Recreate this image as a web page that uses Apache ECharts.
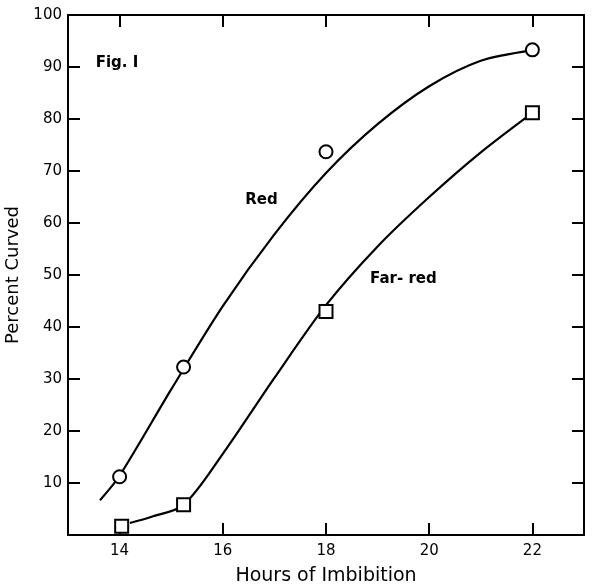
<!DOCTYPE html>
<html>
<head>
<meta charset="utf-8">
<script src="https://cdn.jsdelivr.net/npm/echarts@6/dist/echarts.min.js"></script>
<style>
  html, body { margin: 0; padding: 0; background: #fff; }
  #chart { width: 592px; height: 586px; }
</style>
</head>
<body>
<div id="chart"></div>
<script>
// measured points (hours of imbibition, percent curved)
const redHours = [14, 15.24, 18, 22];
const redPct = [11.2, 32.3, 73.7, 93.3];
const farRedHours = [14.04, 15.24, 18, 22];
const farRedPct = [1.7, 5.8, 43, 81.2];

// hand-drawn fitted curves
const redCurveHours = [13.62, 14, 15, 16, 17, 18, 19, 20, 21, 22];
const redCurvePct = [6.7, 11.4, 28, 44, 57.8, 69.6, 79, 86.3, 91.2, 93.2];
const farRedCurveHours = [14.2, 14.62, 15.24, 16, 17, 18, 19, 20, 21, 22];
const farRedCurvePct = [2.3, 3.5, 5.8, 15.6, 30.2, 44.2, 55.5, 65, 73.6, 81.2];

// axis ticks
const xTicks = [14, 16, 18, 20, 22];
const yTicks = [10, 20, 30, 40, 50, 60, 70, 80, 90];
const yLabels = [10, 20, 30, 40, 50, 60, 70, 80, 90, 100];

// text notes inside the plot
const notes = [
  { text: 'Fig. I', hours: 13.95, pct: 90.8 },
  { text: 'Red', hours: 16.75, pct: 64.4 },
  { text: 'Far- red', hours: 19.5, pct: 49.2 }
];

const ink = '#000';
const font = 'DejaVu Sans';

const zip = (xs, ys) => xs.map((x, i) => [x, ys[i]]);

const baseX = {
  type: 'value',
  min: 13,
  max: 23,
  axisLine: { show: true, onZero: false, lineStyle: { color: ink, width: 2 } },
  axisTick: { show: true, inside: true, length: 12, customValues: xTicks, lineStyle: { color: ink, width: 2 } },
  splitLine: { show: false }
};
const baseY = {
  type: 'value',
  min: 0,
  max: 100,
  interval: 10,
  axisLine: { show: true, onZero: false, lineStyle: { color: ink, width: 2 } },
  axisTick: { show: true, inside: true, length: 12, customValues: yTicks, lineStyle: { color: ink, width: 2 } },
  splitLine: { show: false }
};

const chart = echarts.init(document.getElementById('chart'));

chart.setOption({
  animation: false,
  backgroundColor: '#fff',
  textStyle: { fontFamily: font, color: ink },
  grid: { left: 68, right: 8, top: 15, bottom: 51, containLabel: false, outerBoundsMode: 'none' },
  xAxis: [
    Object.assign({}, baseX, {
      position: 'bottom',
      name: 'Hours of Imbibition',
      nameLocation: 'middle',
      nameGap: 32,
      nameTextStyle: { fontFamily: font, fontSize: 19, color: ink },
      axisLabel: { show: true, customValues: xTicks, margin: 9, fontSize: 15, color: ink, fontFamily: font }
    }),
    Object.assign({}, baseX, { position: 'top', axisLabel: { show: false } })
  ],
  yAxis: [
    Object.assign({}, baseY, {
      position: 'left',
      name: 'Percent Curved',
      nameLocation: 'middle',
      nameGap: 36,
      nameTextStyle: { fontFamily: font, fontSize: 18, color: ink },
      axisLabel: { show: true, customValues: yLabels, margin: 6, fontSize: 15, color: ink, fontFamily: font }
    }),
    Object.assign({}, baseY, { position: 'right', axisLabel: { show: false } })
  ],
  series: [
    {
      name: 'Red curve',
      type: 'line',
      data: zip(redCurveHours, redCurvePct),
      smooth: 0.3,
      showSymbol: false,
      lineStyle: { color: ink, width: 2.2 },
      z: 2
    },
    {
      name: 'Far-red curve',
      type: 'line',
      data: zip(farRedCurveHours, farRedCurvePct),
      smooth: 0.3,
      showSymbol: false,
      lineStyle: { color: ink, width: 2.2 },
      z: 2
    },
    {
      name: 'Red',
      type: 'scatter',
      data: zip(redHours, redPct),
      symbol: 'circle',
      symbolSize: 13,
      itemStyle: { color: '#fff', borderColor: ink, borderWidth: 2, opacity: 1 },
      z: 3
    },
    {
      name: 'Far-red',
      type: 'scatter',
      data: zip(farRedHours, farRedPct),
      symbol: 'rect',
      symbolSize: 13,
      itemStyle: { color: '#fff', borderColor: ink, borderWidth: 2, opacity: 1 },
      z: 3
    },
    {
      name: 'notes',
      type: 'scatter',
      data: notes.map(n => ({ value: [n.hours, n.pct], name: n.text })),
      symbolSize: 0,
      silent: true,
      itemStyle: { opacity: 1 },
      label: {
        show: true,
        position: 'inside',
        formatter: p => p.name,
        fontFamily: font,
        fontSize: 15,
        fontWeight: 'bold',
        color: ink,
        opacity: 1
      },
      z: 4
    }
  ]
});
</script>
</body>
</html>
